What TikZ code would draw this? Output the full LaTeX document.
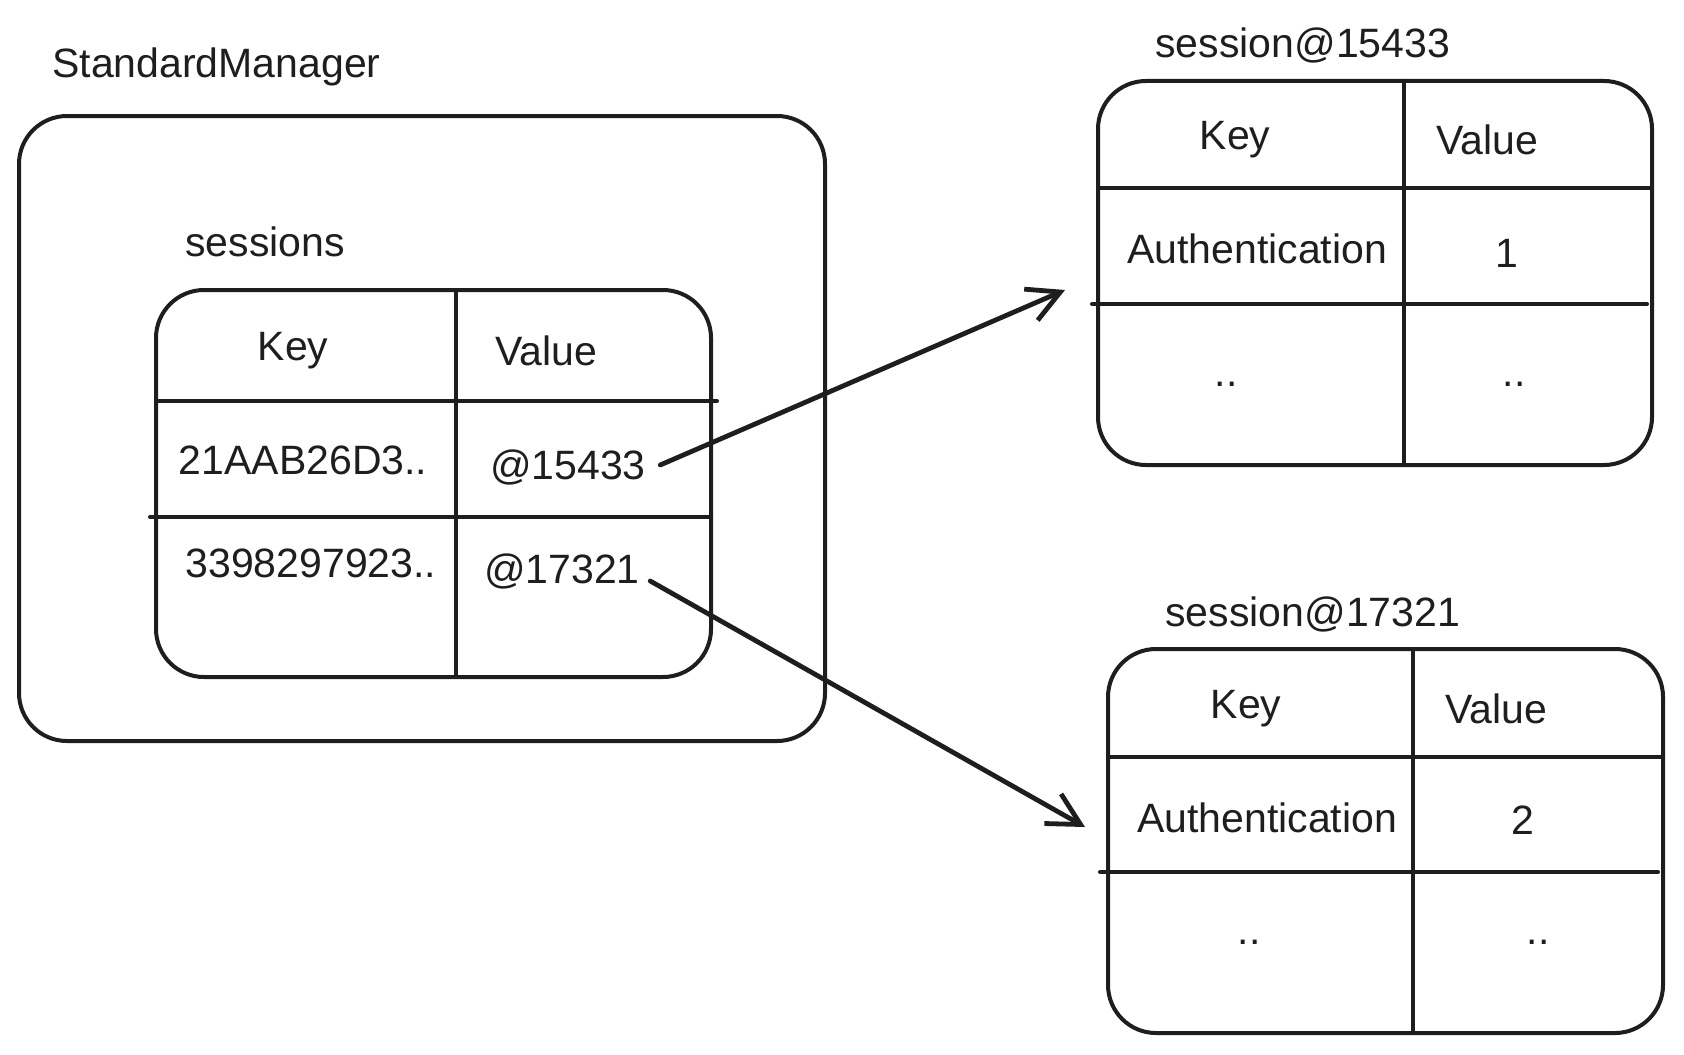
\documentclass[tikz,border=0pt]{standalone}
\usepackage{fontspec}
\setmainfont{Liberation Sans}
\usetikzlibrary{arrows.meta}
\definecolor{ink}{HTML}{1E1E1E}
\begin{document}
\begin{tikzpicture}[x=0.5pt,y=-0.5pt,
  ink/.style={draw=ink,line width=2pt},
  frame/.style={ink,rounded corners=24pt,inner sep=0pt,minimum width=#1},
  divider/.style={ink,line cap=round},
  txt/.style={text=ink,font=\fontsize{20.5}{25}\selectfont,inner sep=0pt},
  caption/.style={txt,anchor=west},
  link/.style={draw=ink,line width=2.4pt,line cap=round,
    -{Straight Barb[length=16pt,width=17pt,line width=2.4pt]}}]
\useasboundingbox (0,0) rectangle (1684,1054);

% StandardManager container
\node[frame=403pt,minimum height=312.5pt] (mgr) at (422,428.5) {};
\node[caption] (mgrlbl) at (52,67) {StandardManager};

% sessions map
\node[caption] (seslbl) at (185,242) {sessions};
\node[frame=277.5pt,minimum height=193.5pt] (ses) at (433.5,483.5) {};
\draw[divider] (156,401) -- (717,401);
\draw[divider] (150,517) -- (711,517);
\draw[divider] (456,290) -- (456,677);
\node[txt] (sk) at (293,351) {Key};
\node[txt] (sv) at (546,351) {Value};
\node[txt] (k1) at (303,460) {21AAB26D3..};
\node[txt] (v1) at (568,467) {@15433};
\node[txt] (k2) at (311,563) {3398297923..};
\node[txt] (v2) at (562,571) {@17321};

% session@15433
\node[caption] (albl) at (1155,45) {session@15433};
\node[frame=277pt,minimum height=192pt] (sa) at (1375,273) {};
\draw[divider] (1098,188) -- (1652,188);
\draw[divider] (1092,304) -- (1647,304);
\draw[divider] (1404,81) -- (1404,465);
\node[txt] (ak) at (1235,140) {Key};
\node[txt] (av) at (1487,140) {Value};
\node[txt] (aa) at (1257,249) {Authentication};
\node[txt] (a1) at (1507,253) {1};
\node[txt] (ad1) at (1226,384) {..};
\node[txt] (ad2) at (1514,384) {..};

% session@17321
\node[caption] (blbl) at (1165,614) {session@17321};
\node[frame=277.5pt,minimum height=192pt] (sb) at (1385.5,841) {};
\draw[divider] (1108,757) -- (1663,757);
\draw[divider] (1100,872) -- (1658,872);
\draw[divider] (1413,649) -- (1413,1033);
\node[txt] (bk) at (1246,709) {Key};
\node[txt] (bv) at (1496,709) {Value};
\node[txt] (ba) at (1267,818) {Authentication};
\node[txt] (b2) at (1523,820) {2};
\node[txt] (bd1) at (1249,942) {..};
\node[txt] (bd2) at (1538,942) {..};

% references from the map values to the session objects
\coordinate (ha) at (1065,290);
\coordinate (hb) at (1085,827);
\draw[link] ([xshift=7pt,yshift=1pt]v1.east) -- (ha);
\draw[link] ([xshift=5pt,yshift=-5pt]v2.east) -- (hb);
\end{tikzpicture}
\end{document}
